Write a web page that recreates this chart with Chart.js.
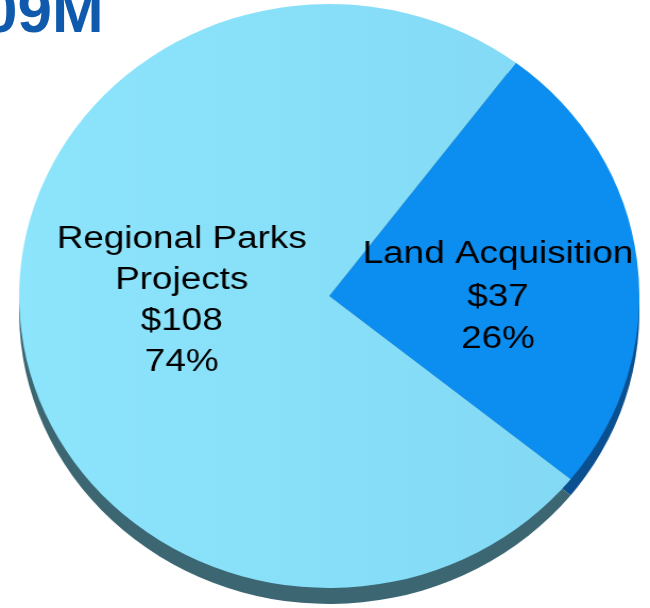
<!DOCTYPE html>
<html>
<head>
<meta charset="utf-8">
<script src="https://cdn.jsdelivr.net/npm/chart.js@4"></script>
<style>
    html, body { margin: 0; padding: 0; background: #fff; overflow: hidden; }
    #stage { position: relative; width: 650px; height: 608px; overflow: hidden; }
    #wrap { position: absolute; left: 0; top: 0; width: 612px; height: 608px; transform: scaleX(1.062); transform-origin: 0 0; }
    #title { position: absolute; left: -17px; top: -20px; font: bold 62px "Liberation Sans", Arial, sans-serif; line-height: 62px; color: #0f5aac; white-space: nowrap; }
</style>
</head>
<body>
<div id="stage">
    <div id="wrap"><canvas id="pie"></canvas></div>
    <div id="title">09M</div>
</div>
<script>
const categories = [["Land Acquisition"], ["Regional Parks", "Projects"]];
const amounts = [37, 108];
const amountLabels = ["$37", "$108"];
const percentLabels = ["26%", "74%"];

const sideColors = ["#0a4f90", "#3b6672"];
const labelNudge = [[14, 19], [6, -13]];

// light slice has a soft left-to-right shading
function sliceColor(context) {
    if (context.dataIndex === 0) return "#0c8ef1";
    const area = context.chart.chartArea;
    if (!area) return "#89e1f9";
    const g = context.chart.ctx.createLinearGradient(area.left, 0, area.right, 0);
    g.addColorStop(0, "#8de5fc");
    g.addColorStop(1, "#82d8f4");
    return g;
}

const depthPlugin = {
    id: "depth",
    beforeDatasetsDraw(chart) {
        const ctx = chart.ctx;
        const arcs = chart.getDatasetMeta(0).data;
        ctx.save();
        arcs.forEach((arc, i) => {
            const { x, y, startAngle, endAngle, outerRadius } = arc.getProps(["x", "y", "startAngle", "endAngle", "outerRadius"], true);
            ctx.beginPath();
            ctx.moveTo(x, y + 16);
            ctx.arc(x, y + 16, outerRadius, startAngle, endAngle);
            ctx.closePath();
            ctx.fillStyle = sideColors[i];
            ctx.fill();
        });
        ctx.restore();
    }
};

const labelPlugin = {
    id: "sliceLabels",
    afterDatasetsDraw(chart) {
        const ctx = chart.ctx;
        const arcs = chart.getDatasetMeta(0).data;
        ctx.save();
        ctx.fillStyle = "#000";
        ctx.font = '31px "Liberation Sans", Arial, sans-serif';
        ctx.textAlign = "center";
        ctx.textBaseline = "middle";
        arcs.forEach((arc, i) => {
            const pos = arc.tooltipPosition(true);
            const lines = [...categories[i], amountLabels[i], percentLabels[i]];
            const lh = lines.length > 3 ? 41 : 42.5;
            const cx = pos.x + labelNudge[i][0];
            const cy = pos.y + labelNudge[i][1];
            let y = cy - (lines.length - 1) * lh / 2;
            lines.forEach(t => {
                ctx.save();
                ctx.translate(cx, y);
                ctx.scale(1.12, 1);
                ctx.fillText(t, 0, 0);
                ctx.restore();
                y += lh;
            });
        });
        ctx.restore();
    }
};

new Chart(document.getElementById("pie"), {
    type: "pie",
    data: {
        labels: categories.map(c => c.join(" ")),
        datasets: [{
            data: amounts,
            backgroundColor: sliceColor,
            borderWidth: 0
        }]
    },
    options: {
        responsive: true,
        maintainAspectRatio: false,
        animation: false,
        rotation: 37,
        layout: { padding: { left: 17, right: 9, top: 4, bottom: 20 } },
        plugins: {
            legend: { display: false },
            tooltip: { enabled: false }
        }
    },
    plugins: [depthPlugin, labelPlugin]
});
</script>
</body>
</html>
